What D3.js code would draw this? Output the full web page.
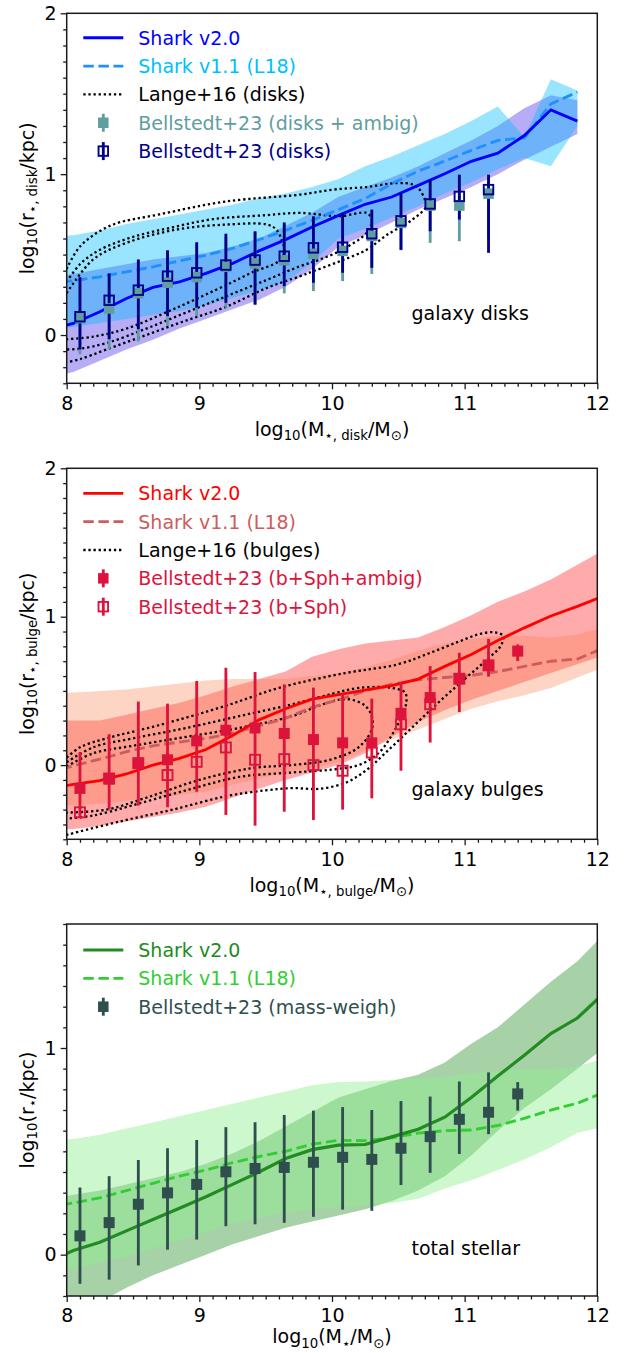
<!DOCTYPE html>
<html>
<head>
<meta charset="utf-8">
<script src="https://cdn.jsdelivr.net/npm/d3@7"></script>
<style>
  body { margin: 0; background: #fff; }
  svg { display: block; }
  text { font-family: "DejaVu Sans", sans-serif; }
</style>
</head>
<body>
<svg id="fig" width="624" height="1353"></svg>
<script>
// ---------------- data ----------------
// model mass bins (log10 Msun)
const modelMass = [7.85, 8.05, 8.25, 8.45, 8.65, 8.85, 9.05, 9.25, 9.45, 9.65, 9.85, 10.05, 10.25, 10.45, 10.65, 10.85, 11.05, 11.25, 11.45, 11.65, 11.85];
const modelMassExt = [7.85, 8.05, 8.25, 8.45, 8.65, 8.85, 9.05, 9.25, 9.45, 9.65, 9.85, 10.05, 10.25, 10.45, 10.65, 10.85, 11.05, 11.25, 11.45, 11.65, 11.85, 12.05];
// observational mass bins
const obsMass = [8.1, 8.32, 8.54, 8.76, 8.98, 9.2, 9.42, 9.64, 9.86, 10.08, 10.3, 10.52, 10.74, 10.96, 11.18, 11.4];

// disks: Shark v2.0 median and 16-84 percentiles
const diskV2Med = [0.03, 0.072, 0.145, 0.227, 0.296, 0.33, 0.383, 0.445, 0.523, 0.593, 0.672, 0.744, 0.813, 0.858, 0.93, 1.003, 1.08, 1.131, 1.24, 1.40, 1.33];
const diskV2Lo  = [-0.27, -0.23, -0.16, -0.09, -0.03, 0.04, 0.10, 0.16, 0.22, 0.30, 0.41, 0.55, 0.62, 0.70, 0.78, 0.85, 0.92, 1.00, 1.09, 1.17, 1.25];
const diskV2Hi  = [0.36, 0.38, 0.41, 0.44, 0.47, 0.49, 0.51, 0.55, 0.60, 0.68, 0.76, 0.86, 0.92, 0.98, 1.05, 1.13, 1.21, 1.30, 1.41, 1.49, 1.46];
// disks: Shark v1.1
const diskV1Med = [0.325, 0.337, 0.362, 0.393, 0.424, 0.461, 0.496, 0.538, 0.593, 0.651, 0.713, 0.78, 0.848, 0.941, 1.019, 1.081, 1.148, 1.21, 1.226, 1.437, 1.51];
const diskV1Lo  = [0.04, 0.05, 0.075, 0.10, 0.125, 0.15, 0.185, 0.23, 0.28, 0.33, 0.45, 0.60, 0.66, 0.73, 0.80, 0.88, 0.95, 1.03, 1.10, 1.05, 1.30];
const diskV1Hi  = [0.61, 0.62, 0.65, 0.69, 0.72, 0.75, 0.78, 0.81, 0.85, 0.88, 0.92, 0.97, 1.05, 1.11, 1.18, 1.25, 1.33, 1.42, 1.23, 1.59, 1.52];
// disks: Bellstedt+23 (disks + ambig)
const diskAmbigSize = [0.105, 0.165, 0.26, 0.325, 0.36, 0.424, 0.445, 0.465, 0.505, 0.523, 0.616, 0.697, 0.805, 0.805, 0.879];
const diskAmbigLo   = [-0.12, -0.09, -0.04, 0.056, 0.118, 0.17, 0.186, 0.259, 0.273, 0.335, 0.38, 0.527, 0.573, 0.583, 0.60];
const diskAmbigHi   = [0.33, 0.36, 0.46, 0.52, 0.57, 0.61, 0.64, 0.69, 0.72, 0.74, 0.77, 0.87, 0.95, 0.98, 0.98];
// disks: Bellstedt+23 (disks)
const diskOnlySize = [0.114, 0.216, 0.279, 0.366, 0.387, 0.435, 0.466, 0.49, 0.542, 0.546, 0.63, 0.71, 0.815, 0.862, 0.904];
const diskOnlyLo   = [-0.089, -0.026, 0.036, 0.118, 0.17, 0.2, 0.19, 0.304, 0.325, 0.387, 0.418, 0.53, 0.645, 0.718, 0.511];
const diskOnlyHi   = [0.36, 0.383, 0.47, 0.527, 0.577, 0.63, 0.645, 0.70, 0.738, 0.76, 0.78, 0.883, 0.966, 0.997, 0.997];
// disks: Lange+16 contours
const langeDiskOuter = [[8.0,0.41],[8.1,0.55],[8.33,0.68],[8.7,0.75],[9.2,0.83],[9.76,0.873],[10.01,0.904],[10.26,0.92],[10.49,0.945],[10.61,0.935],[10.66,0.904],[10.70,0.842],[10.71,0.80],[10.61,0.72],[10.41,0.62],[10.26,0.53],[10.06,0.459],[9.86,0.397],[9.76,0.366],[9.5,0.29],[9.2,0.175],[8.9,0.09],[8.6,0.0],[8.3,-0.09],[8.1,-0.15],[8.0,-0.17]];
const langeDiskMiddle = [[8.0,0.33],[8.1,0.44],[8.25,0.53],[8.5,0.61],[8.8,0.67],[9.1,0.72],[9.5,0.745],[9.76,0.759],[10.06,0.739],[10.26,0.759],[10.30,0.718],[10.26,0.635],[10.08,0.532],[9.91,0.47],[9.76,0.428],[9.5,0.34],[9.2,0.24],[8.9,0.14],[8.6,0.04],[8.3,-0.05],[8.1,-0.085],[8.0,-0.09]];
const langeDiskInner = [[8.0,0.26],[8.2,0.47],[8.45,0.573],[8.83,0.656],[9.21,0.687],[9.51,0.687],[9.58,0.656],[9.62,0.594],[9.64,0.52],[9.60,0.46],[9.4,0.39],[9.2,0.31],[8.83,0.17],[8.45,0.04],[8.2,-0.01],[8.0,-0.026]];

// bulges: Shark v2.0
const bulgeV2Med = [-0.16, -0.13, -0.105, -0.06, 0.0, 0.045, 0.105, 0.20, 0.305, 0.38, 0.445, 0.475, 0.505, 0.535, 0.58, 0.665, 0.745, 0.84, 0.925, 1.005, 1.07, 1.14];
const bulgeV2Lo  = [-0.44, -0.43, -0.41, -0.38, -0.35, -0.32, -0.28, -0.22, -0.16, -0.10, -0.05, 0.0, 0.08, 0.19, 0.29, 0.37, 0.44, 0.50, 0.56, 0.62, 0.68, 0.74];
const bulgeV2Hi  = [0.30, 0.30, 0.30, 0.34, 0.38, 0.42, 0.47, 0.53, 0.58, 0.63, 0.73, 0.78, 0.82, 0.84, 0.86, 0.93, 1.01, 1.10, 1.17, 1.25, 1.35, 1.45];
// bulges: Shark v1.1
const bulgeV1Med = [-0.05, -0.005, 0.04, 0.09, 0.13, 0.155, 0.18, 0.215, 0.265, 0.315, 0.39, 0.44, 0.50, 0.545, 0.575, 0.59, 0.605, 0.63, 0.665, 0.70, 0.715, 0.79];
const bulgeV1Lo  = [-0.28, -0.27, -0.26, -0.24, -0.22, -0.20, -0.18, -0.13, -0.09, -0.05, -0.02, 0.02, 0.10, 0.17, 0.24, 0.31, 0.38, 0.43, 0.47, 0.52, 0.59, 0.66];
const bulgeV1Hi  = [0.48, 0.49, 0.50, 0.51, 0.53, 0.55, 0.57, 0.58, 0.58, 0.58, 0.60, 0.62, 0.66, 0.71, 0.77, 0.82, 0.85, 0.87, 0.87, 0.86, 0.88, 0.93];
// bulges: Bellstedt+23 (b+Sph+ambig)
const bulgeAmbigSize = [-0.157, -0.094, 0.013, 0.036, 0.163, 0.235, 0.25, 0.213, 0.172, 0.15, 0.15, 0.349, 0.455, 0.582, 0.672, 0.768];
const bulgeAmbigLo   = [-0.354, -0.30, -0.273, -0.284, -0.18, -0.336, -0.408, -0.314, -0.37, -0.30, -0.224, -0.038, 0.152, 0.358, 0.596, 0.701];
const bulgeAmbigHi   = [0.087, 0.208, 0.428, 0.414, 0.567, 0.656, 0.627, 0.544, 0.522, 0.48, 0.448, 0.56, 0.667, 0.757, 0.851, 0.813];
// bulges: Bellstedt+23 (b+Sph)
const bulgeOnlySize = [-0.318, -0.09, 0.013, -0.067, 0.022, 0.119, 0.036, 0.04, 0.0, -0.038, 0.085, 0.275, 0.41, 0.582, 0.672];
// bulges: Lange+16 contours
const langeBulgeOuter = [[8.0,0.05],[8.1,0.12],[8.3,0.18],[8.7,0.27],[9.2,0.40],[9.6,0.52],[10.1,0.62],[10.5,0.68],[10.75,0.76],[10.95,0.83],[11.1,0.88],[11.22,0.895],[11.29,0.87],[11.27,0.80],[11.18,0.72],[11.0,0.58],[10.8,0.42],[10.6,0.25],[10.4,0.08],[10.25,-0.04],[10.1,-0.12],[9.9,-0.16],[9.7,-0.155],[9.5,-0.17],[9.2,-0.21],[8.8,-0.30],[8.4,-0.38],[8.0,-0.47]];
const langeBulgeMiddle = [[8.0,0.02],[8.2,0.12],[8.5,0.18],[8.9,0.25],[9.3,0.33],[9.7,0.41],[10.0,0.48],[10.2,0.52],[10.45,0.52],[10.55,0.49],[10.56,0.42],[10.52,0.32],[10.45,0.20],[10.35,0.08],[10.2,0.0],[10.0,-0.03],[9.7,-0.05],[9.3,-0.08],[8.9,-0.17],[8.5,-0.27],[8.2,-0.34],[8.0,-0.36]];
const langeBulgeInner = [[8.0,-0.01],[8.2,0.08],[8.5,0.13],[8.9,0.19],[9.3,0.25],[9.7,0.33],[9.9,0.40],[10.05,0.44],[10.15,0.44],[10.25,0.40],[10.30,0.33],[10.30,0.24],[10.2,0.12],[10.0,0.04],[9.7,0.0],[9.4,-0.02],[9.0,-0.10],[8.6,-0.22],[8.3,-0.30],[8.0,-0.32]];

// total stellar: Shark v2.0
const totalV2Med = [-0.035, 0.02, 0.06, 0.115, 0.17, 0.225, 0.28, 0.34, 0.40, 0.465, 0.508, 0.53, 0.533, 0.57, 0.607, 0.665, 0.76, 0.865, 0.965, 1.07, 1.145, 1.265];
const totalV2Lo  = [-0.40, -0.33, -0.23, -0.16, -0.10, -0.05, 0.0, 0.05, 0.09, 0.13, 0.16, 0.19, 0.22, 0.26, 0.31, 0.38, 0.48, 0.60, 0.71, 0.80, 0.90, 1.0];
const totalV2Hi  = [0.27, 0.29, 0.31, 0.34, 0.37, 0.40, 0.44, 0.49, 0.55, 0.62, 0.69, 0.76, 0.80, 0.84, 0.87, 0.93, 1.02, 1.10, 1.21, 1.32, 1.42, 1.55];
// total stellar: Shark v1.1
const totalV1Med = [0.23, 0.25, 0.275, 0.31, 0.345, 0.38, 0.41, 0.445, 0.475, 0.50, 0.535, 0.553, 0.552, 0.565, 0.588, 0.60, 0.603, 0.625, 0.66, 0.70, 0.733, 0.785];
const totalV1Lo  = [-0.10, -0.07, -0.04, -0.01, 0.03, 0.07, 0.11, 0.15, 0.18, 0.20, 0.22, 0.23, 0.24, 0.25, 0.27, 0.32, 0.36, 0.41, 0.46, 0.52, 0.59, 0.62];
const totalV1Hi  = [0.55, 0.56, 0.58, 0.61, 0.64, 0.67, 0.70, 0.73, 0.76, 0.79, 0.82, 0.835, 0.838, 0.845, 0.855, 0.862, 0.875, 0.89, 0.90, 0.90, 0.91, 0.95];
// total stellar: Bellstedt+23 (mass-weighted)
const totalSize = [0.091, 0.155, 0.244, 0.299, 0.34, 0.401, 0.417, 0.422, 0.447, 0.471, 0.461, 0.515, 0.571, 0.655, 0.689, 0.778];
const totalLo   = [-0.141, -0.121, -0.052, 0.024, 0.073, 0.138, 0.147, 0.154, 0.183, 0.218, 0.212, 0.337, 0.396, 0.487, 0.583, 0.697];
const totalHi   = [0.325, 0.38, 0.458, 0.515, 0.555, 0.617, 0.641, 0.676, 0.697, 0.714, 0.70, 0.743, 0.765, 0.838, 0.882, 0.835];

// axis ticks
const xTickLabels = [8, 9, 10, 11, 12];

// ---------------- drawing ----------------
const FS = 19, SUB = 13.3, SHIFT = 4.5;
const DOT = '2.3,2.8';
const svg = d3.select('#fig');
const left = 66.7, right = 597.3;
const x = d3.scaleLinear().domain([8, 12]).range([left, right]);
const xMinor = d3.range(81, 120).filter(v => v % 10 !== 0).map(v => v / 10);

function richText(sel, parts) {
  let shifted = false;
  parts.forEach(p => {
    const t = sel.append('tspan').text(p[0]);
    const sub = p[1] === 'sub';
    t.attr('font-size', sub ? SUB : FS);
    if (sub && !shifted) { t.attr('dy', SHIFT); shifted = true; }
    else if (!sub && shifted) { t.attr('dy', -SHIFT); shifted = false; }
  });
}

function panel(cfg, idx) {
  const y = d3.scaleLinear().domain(cfg.yDomain).range([cfg.bottom, cfg.top]);
  const g = svg.append('g');
  const clipId = 'clip' + idx;
  svg.append('clipPath').attr('id', clipId).append('rect')
    .attr('x', left).attr('y', cfg.top).attr('width', right - left).attr('height', cfg.bottom - cfg.top);
  const plot = g.append('g').attr('clip-path', `url(#${clipId})`);

  // shaded percentile bands
  cfg.bands.forEach(b => {
    const rows = b.mass.map((m, i) => ({ m, lo: b.lo[i], hi: b.hi[i] }));
    plot.append('path').datum(rows)
      .attr('d', d3.area().x(d => x(d.m)).y0(d => y(d.lo)).y1(d => y(d.hi)))
      .attr('fill', b.color).attr('fill-opacity', b.opacity);
  });

  // observed contours
  (cfg.contours || []).forEach(c => {
    plot.append('path').datum(c)
      .attr('d', d3.line().x(d => x(d[0])).y(d => y(d[1])).curve(d3.curveCatmullRom.alpha(0.5)))
      .attr('fill', 'none').attr('stroke', '#000').attr('stroke-width', 2.3)
      .attr('stroke-dasharray', DOT);
  });

  // model medians
  cfg.lines.forEach(l => {
    const rows = l.mass.map((m, i) => ({ m, v: l.vals[i] }));
    plot.append('path').datum(rows)
      .attr('d', d3.line().x(d => x(d.m)).y(d => y(d.v)))
      .attr('fill', 'none').attr('stroke', l.color).attr('stroke-width', l.width)
      .attr('stroke-dasharray', l.dash || null);
  });

  // observational points: all error bars first, then all markers
  const pts = cfg.points.map(p => ({
    p, rows: p.vals.map((v, i) => ({ m: obsMass[i], v, lo: p.lo ? p.lo[i] : null, hi: p.hi ? p.hi[i] : null }))
  }));
  pts.forEach(({ p, rows }) => {
    if (!p.lo) return;
    g.append('g').selectAll('line').data(rows).join('line')
      .attr('x1', d => x(d.m)).attr('x2', d => x(d.m))
      .attr('y1', d => y(d.lo)).attr('y2', d => y(d.hi))
      .attr('stroke', p.color).attr('stroke-width', 2.85);
  });
  pts.forEach(({ p, rows }) => {
    g.append('g').selectAll('rect').data(rows).join('rect')
      .attr('x', d => x(d.m) - p.size / 2).attr('y', d => y(d.v) - p.size / 2)
      .attr('width', p.size).attr('height', p.size)
      .attr('fill', p.open ? 'none' : p.color)
      .attr('stroke', p.open ? p.color : 'none').attr('stroke-width', p.open ? 1.9 : 0);
  });

  // spines
  g.append('rect').attr('x', left).attr('y', cfg.top).attr('width', right - left)
    .attr('height', cfg.bottom - cfg.top).attr('fill', 'none')
    .attr('stroke', '#1a1a1a').attr('stroke-width', 1.5);

  // axes
  const styleAxis = a => {
    a.select('.domain').remove();
    a.selectAll('line').attr('stroke', '#1a1a1a').attr('stroke-width', 1.3);
    a.selectAll('text').attr('font-size', FS).attr('fill', '#000')
      .attr('font-family', '"DejaVu Sans", sans-serif');
  };
  g.append('g').attr('transform', `translate(0,${cfg.bottom})`)
    .call(d3.axisBottom(x).tickValues(xTickLabels).tickSize(6).tickPadding(7).tickFormat(d3.format('d')))
    .call(styleAxis);
  g.append('g').attr('transform', `translate(0,${cfg.bottom})`)
    .call(d3.axisBottom(x).tickValues(xMinor).tickSize(3.5).tickFormat(''))
    .call(styleAxis);
  const yMinor = d3.range(Math.ceil(cfg.yDomain[0] * 10), Math.floor(cfg.yDomain[1] * 10) + 1)
    .filter(v => v % 10 !== 0).map(v => v / 10);
  g.append('g').attr('transform', `translate(${left},0)`)
    .call(d3.axisLeft(y).tickValues(cfg.yTicks).tickSize(6).tickPadding(4).tickFormat(d3.format('d')))
    .call(styleAxis);
  g.append('g').attr('transform', `translate(${left},0)`)
    .call(d3.axisLeft(y).tickValues(yMinor).tickSize(3.5).tickFormat(''))
    .call(styleAxis);

  // axis titles
  const xl = g.append('text').attr('x', (left + right) / 2).attr('y', cfg.xLabelY)
    .attr('text-anchor', 'middle').attr('font-size', FS);
  richText(xl, cfg.xLabel);
  const yl = g.append('text')
    .attr('transform', `translate(27,${(cfg.top + cfg.bottom) / 2}) rotate(-90)`)
    .attr('text-anchor', 'middle').attr('dominant-baseline', 'central').attr('font-size', FS);
  richText(yl, cfg.yLabel);

  // annotation
  g.append('text').attr('x', 411.5).attr('y', cfg.noteY).attr('font-size', FS)
    .attr('fill', '#000').text(cfg.note);

  // legend
  cfg.legend.forEach((e, i) => {
    const cy = cfg.top + cfg.legendOffset + i * 28.35;
    if (e.kind === 'line' || e.kind === 'dash' || e.kind === 'dot') {
      g.append('line').attr('x1', 83.3).attr('x2', 123.3).attr('y1', cy).attr('y2', cy)
        .attr('stroke', e.color)
        .attr('stroke-width', e.kind === 'dot' ? 2.3 : e.width)
        .attr('stroke-dasharray', e.kind === 'dash' ? '10.5,4.6' : e.kind === 'dot' ? DOT : null);
    } else {
      g.append('line').attr('x1', 103.3).attr('x2', 103.3).attr('y1', cy - 9).attr('y2', cy + 9)
        .attr('stroke', e.color).attr('stroke-width', 2.85);
      const s = e.kind === 'open' ? 9.5 : 10.5;
      g.append('rect').attr('x', 103.3 - s / 2).attr('y', cy - s / 2).attr('width', s).attr('height', s)
        .attr('fill', e.kind === 'open' ? 'none' : e.color)
        .attr('stroke', e.kind === 'open' ? e.color : 'none').attr('stroke-width', 1.9);
    }
    g.append('text').attr('x', 138.3).attr('y', cy).attr('dominant-baseline', 'central')
      .attr('font-size', FS).attr('fill', e.textColor).text(e.text);
  });
}

const panels = [
  {
    top: 13.3, bottom: 383.3, yDomain: [-0.3, 2], yTicks: [0, 1, 2],
    bands: [
      { mass: modelMass, lo: diskV2Lo, hi: diskV2Hi, color: '#7b68ee', opacity: 0.55 },
      { mass: modelMass, lo: diskV1Lo, hi: diskV1Hi, color: '#00bfff', opacity: 0.4 }
    ],
    contours: [langeDiskOuter, langeDiskMiddle, langeDiskInner],
    lines: [
      { mass: modelMass, vals: diskV1Med, color: '#1e90ff', width: 2.85, dash: '10.5,4.6' },
      { mass: modelMass, vals: diskV2Med, color: '#0000ff', width: 2.85 }
    ],
    points: [
      { vals: diskAmbigSize, lo: diskAmbigLo, hi: diskAmbigHi, color: '#5f9ea0', size: 10.5 },
      { vals: diskOnlySize, lo: diskOnlyLo, hi: diskOnlyHi, color: '#00008b', size: 9.5, open: true }
    ],
    xLabel: [['log'], ['10', 'sub'], ['(M'], ['⋆, disk', 'sub'], ['/M'], ['⊙', 'sub'], [')']],
    yLabel: [['log'], ['10', 'sub'], ['(r'], ['⋆, disk', 'sub'], ['/kpc)']],
    xLabelY: 435.8,
    note: 'galaxy disks', noteY: 320,
    legendOffset: 24.4,
    legend: [
      { kind: 'line', color: '#0000ff', width: 2.85, textColor: '#0000ff', text: 'Shark v2.0' },
      { kind: 'dash', color: '#1e90ff', width: 2.85, textColor: '#00bfff', text: 'Shark v1.1 (L18)' },
      { kind: 'dot', color: '#000', textColor: '#000', text: 'Lange+16 (disks)' },
      { kind: 'filled', color: '#5f9ea0', textColor: '#5f9ea0', text: 'Bellstedt+23 (disks + ambig)' },
      { kind: 'open', color: '#00008b', textColor: '#00008b', text: 'Bellstedt+23 (disks)' }
    ]
  },
  {
    top: 468.3, bottom: 839.3, yDomain: [-0.5, 2], yTicks: [0, 1, 2],
    bands: [
      { mass: modelMassExt, lo: bulgeV2Lo, hi: bulgeV2Hi, color: '#ff0000', opacity: 0.33 },
      { mass: modelMassExt, lo: bulgeV1Lo, hi: bulgeV1Hi, color: '#fa8050', opacity: 0.33 }
    ],
    contours: [langeBulgeOuter, langeBulgeMiddle, langeBulgeInner],
    lines: [
      { mass: modelMassExt, vals: bulgeV1Med, color: '#cd5c5c', width: 2.85, dash: '10.5,4.6' },
      { mass: modelMassExt, vals: bulgeV2Med, color: '#ff0000', width: 2.85 }
    ],
    points: [
      { vals: bulgeAmbigSize, lo: bulgeAmbigLo, hi: bulgeAmbigHi, color: '#dc143c', size: 11 },
      { vals: bulgeOnlySize, color: '#dc143c', size: 10, open: true }
    ],
    xLabel: [['log'], ['10', 'sub'], ['(M'], ['⋆, bulge', 'sub'], ['/M'], ['⊙', 'sub'], [')']],
    yLabel: [['log'], ['10', 'sub'], ['(r'], ['⋆, bulge', 'sub'], ['/kpc)']],
    xLabelY: 891.8,
    note: 'galaxy bulges', noteY: 795.5,
    legendOffset: 25,
    legend: [
      { kind: 'line', color: '#ff0000', width: 2.85, textColor: '#ff0000', text: 'Shark v2.0' },
      { kind: 'dash', color: '#cd5c5c', width: 2.85, textColor: '#cd5c5c', text: 'Shark v1.1 (L18)' },
      { kind: 'dot', color: '#000', textColor: '#000', text: 'Lange+16 (bulges)' },
      { kind: 'filled', color: '#dc143c', textColor: '#dc143c', text: 'Bellstedt+23 (b+Sph+ambig)' },
      { kind: 'open', color: '#dc143c', textColor: '#dc143c', text: 'Bellstedt+23 (b+Sph)' }
    ]
  },
  {
    top: 924, bottom: 1296, yDomain: [-0.2, 1.6], yTicks: [0, 1],
    bands: [
      { mass: modelMassExt, lo: totalV2Lo, hi: totalV2Hi, color: '#228b22', opacity: 0.4 },
      { mass: modelMassExt, lo: totalV1Lo, hi: totalV1Hi, color: '#90ee90', opacity: 0.45 }
    ],
    contours: [],
    lines: [
      { mass: modelMassExt, vals: totalV1Med, color: '#32cd32', width: 2.85, dash: '10.5,4.6' },
      { mass: modelMassExt, vals: totalV2Med, color: '#228b22', width: 3.2 }
    ],
    points: [
      { vals: totalSize, lo: totalLo, hi: totalHi, color: '#2f4f4f', size: 11 }
    ],
    xLabel: [['log'], ['10', 'sub'], ['(M'], ['⋆', 'sub'], ['/M'], ['⊙', 'sub'], [')']],
    yLabel: [['log'], ['10', 'sub'], ['(r'], ['⋆', 'sub'], ['/kpc)']],
    xLabelY: 1343,
    note: 'total stellar', noteY: 1255,
    legendOffset: 26,
    legend: [
      { kind: 'line', color: '#228b22', width: 3.2, textColor: '#228b22', text: 'Shark v2.0' },
      { kind: 'dash', color: '#32cd32', width: 2.85, textColor: '#32cd32', text: 'Shark v1.1 (L18)' },
      { kind: 'filled', color: '#2f4f4f', textColor: '#2f4f4f', text: 'Bellstedt+23 (mass-weigh)' }
    ]
  }
];

panels.forEach((p, i) => panel(p, i));
</script>
</body>
</html>
